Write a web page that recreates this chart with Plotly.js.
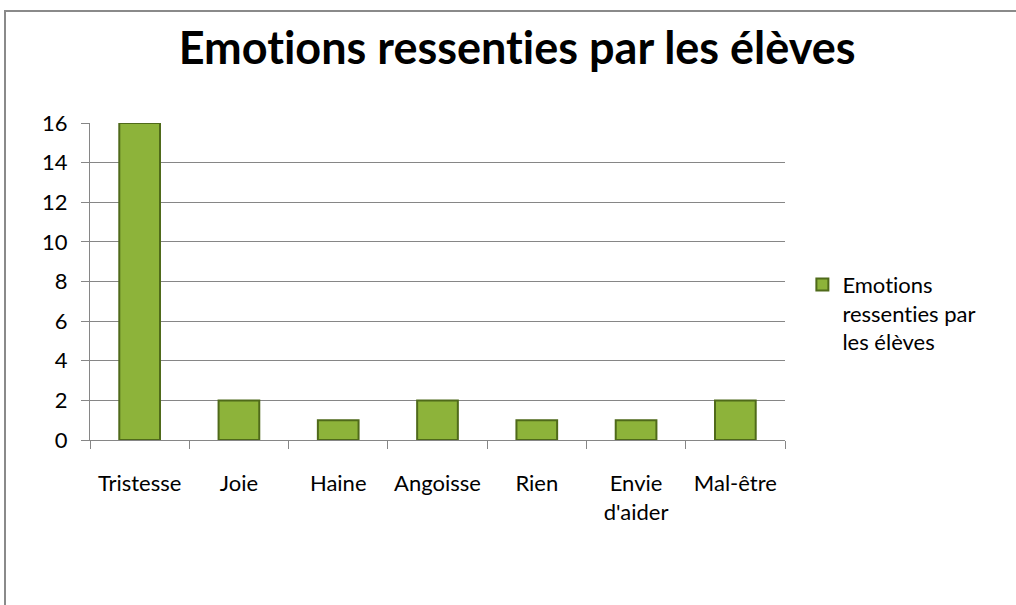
<!DOCTYPE html>
<html>
<head>
<meta charset="utf-8">
<script src="https://cdn.plot.ly/plotly-3.0.1.min.js"></script>
<style>
html,body{margin:0;padding:0;background:#fff;overflow:hidden;}
#wrap{position:relative;width:1016px;height:605px;overflow:hidden;}
#chart{width:1016px;height:605px;}
#frame{position:absolute;left:4px;top:10px;width:1012px;height:595px;border-top:2px solid #8a8a8a;border-left:2px solid #8a8a8a;pointer-events:none;box-sizing:border-box;}
text{font-variant-ligatures:none;font-feature-settings:"liga" 0;}
</style>
</head>
<body>
<div id="wrap"><div id="chart"></div><div id="frame"></div></div>
<script>
const categories = ["Tristesse","Joie","Haine","Angoisse","Rien","Envie<br>d'aider","Mal-être"];
const values = [16, 2, 1, 2, 1, 1, 2];
const seriesName = "Emotions<br>ressenties par<br>les élèves";
const titleText = "Emotions ressenties par les élèves";
const yTicks = [0,2,4,6,8,10,12,14,16];

const FONT = "Lato, 'Open Sans', sans-serif";

const data = [{
  type: "bar",
  x: categories,
  y: values,
  name: seriesName,
  marker: {color: "#8db33a", line: {color: "#4f6a1a", width: 2}},
  showlegend: true
}];

const layout = {
  width: 1016, height: 605,
  margin: {l: 90, r: 231, t: 123, b: 165},
  paper_bgcolor: "#fff", plot_bgcolor: "#fff",
  bargap: 0.59,
  title: {text: "<b>" + titleText + "</b>", font: {family: FONT, size: 45, color: "#000"},
          x: 0.509, xref: "container", y: 0.92, yref: "container", yanchor: "middle"},
  font: {family: FONT, size: 22, color: "#000"},
  xaxis: {type: "category", showgrid: false, showline: true, linecolor: "#868686", linewidth: 1,
          ticks: "outside", ticklen: 8, tickcolor: "#868686", tickson: "boundaries",
          ticklabelstandoff: 24, tickangle: 0,
          tickfont: {family: FONT, size: 22, color: "#000"}, fixedrange: true},
  yaxis: {range: [0, 16], tickvals: yTicks, showgrid: true, gridcolor: "#868686", gridwidth: 1,
          showline: true, linecolor: "#868686", ticks: "outside", ticklen: 8, tickcolor: "#868686",
          ticklabelstandoff: 9,
          zeroline: false, tickfont: {family: FONT, size: 22, color: "#000"}, fixedrange: true},
  legend: {x: 1.025, xanchor: "left", y: 0.4, yanchor: "middle", valign: "top",
           font: {family: FONT, size: 22, color: "#000"},
           itemwidth: 30, bgcolor: "rgba(0,0,0,0)"},
  showlegend: true
};

Plotly.newPlot("chart", data, layout, {displayModeBar: false, staticPlot: true});
</script>
</body>
</html>
